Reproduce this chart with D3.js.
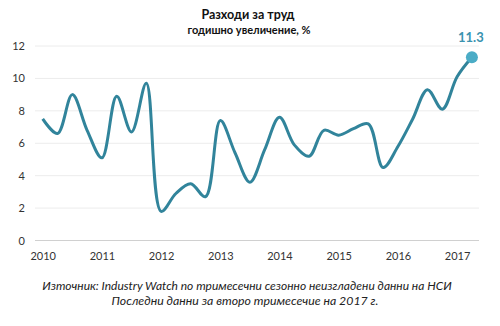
<!DOCTYPE html>
<html>
<head>
<meta charset="utf-8">
<script src="https://cdn.jsdelivr.net/npm/d3@7"></script>
<style>
  html, body { margin: 0; padding: 0; background: #fff; }
  svg { display: block; font-family: Lato, "Open Sans", sans-serif; }
</style>
</head>
<body>
<svg id="chart" width="500" height="326"></svg>
<script>
// Quarterly labour cost growth, year-on-year %, 2010 Q1 – 2017 Q2
const years = [2010, 2011, 2012, 2013, 2014, 2015, 2016, 2017];
const quarters = [
  "2010Q1","2010Q2","2010Q3","2010Q4",
  "2011Q1","2011Q2","2011Q3","2011Q4",
  "2012Q1","2012Q2","2012Q3","2012Q4",
  "2013Q1","2013Q2","2013Q3","2013Q4",
  "2014Q1","2014Q2","2014Q3","2014Q4",
  "2015Q1","2015Q2","2015Q3","2015Q4",
  "2016Q1","2016Q2","2016Q3","2016Q4",
  "2017Q1","2017Q2"
];
const values = [
  7.5, 6.6, 9.0, 6.8,
  5.1, 8.9, 6.7, 9.7,
  1.8, 2.9, 3.5, 2.7,
  7.4, 5.4, 3.6, 5.6,
  7.6, 5.9, 5.2, 6.8,
  6.5, 6.9, 7.2, 4.5,
  5.8, 7.5, 9.3, 8.1,
  10.1, 11.3
];
const yTicks = [0, 2, 4, 6, 8, 10, 12];

const svg = d3.select("#chart");
const plotLeft = 35, plotRight = 479, plotTop = 46, plotBottom = 240.5;

const x = d3.scalePoint().domain(quarters).range([42.7, 471.9]);
const y = d3.scaleLinear().domain([0, 12]).range([plotBottom, plotTop]);

// horizontal gridlines
svg.append("g").selectAll("line").data(yTicks.filter(d => d > 0)).join("line")
  .attr("x1", plotLeft).attr("x2", plotRight)
  .attr("y1", d => y(d)).attr("y2", d => y(d))
  .attr("stroke", "#ececec").attr("stroke-width", 1);

// y axis labels
const yAxis = d3.axisLeft(y).tickValues(yTicks).tickSize(0).tickPadding(0);
svg.append("g").attr("transform", "translate(25,0)").call(yAxis)
  .call(g => g.select(".domain").remove())
  .selectAll("text").attr("font-size", 11).attr("fill", "#333")
  .attr("font-family", "Lato, sans-serif");

// x axis baseline and year labels
const xAxis = d3.axisBottom(x)
  .tickValues(years.map(yr => yr + "Q1"))
  .tickFormat(d => d.slice(0, 4))
  .tickSize(0).tickPadding(12);
svg.append("g").attr("transform", `translate(0,${plotBottom})`).call(xAxis)
  .call(g => g.select(".domain").remove())
  .selectAll("text").attr("font-size", 11).attr("fill", "#333")
  .attr("font-family", "Lato, sans-serif");
svg.append("line")
  .attr("x1", plotLeft).attr("x2", plotRight)
  .attr("y1", plotBottom).attr("y2", plotBottom)
  .attr("stroke", "#d0d0d0").attr("stroke-width", 1);

// smoothed series line
const line = d3.line()
  .x((d, i) => x(quarters[i]))
  .y(d => y(d))
  .curve(d3.curveCatmullRom.alpha(0.5));
svg.append("path").datum(values)
  .attr("d", line)
  .attr("fill", "none")
  .attr("stroke", "#31849B")
  .attr("stroke-width", 3)
  .attr("stroke-linejoin", "round");

// latest value marker and label
const last = values.length - 1;
svg.append("circle")
  .attr("cx", x(quarters[last])).attr("cy", y(values[last]))
  .attr("r", 6).attr("fill", "#4BACC6");
svg.append("text")
  .attr("x", x(quarters[last]) - 1).attr("y", y(values[last]) - 15)
  .attr("text-anchor", "middle")
  .attr("font-size", 13).attr("font-weight", "bold")
  .attr("fill", "#3A93AF")
  .text(values[last].toFixed(1));

// titles
svg.append("text").attr("x", 248).attr("y", 19).attr("text-anchor", "middle")
  .attr("font-size", 12.5).attr("font-weight", "bold").attr("fill", "#111")
  .text("Разходи за труд");
svg.append("text").attr("x", 249).attr("y", 34).attr("text-anchor", "middle")
  .attr("font-size", 11).attr("font-weight", "bold").attr("fill", "#111")
  .text("годишно увеличение, %");

// source note
svg.append("text").attr("x", 247).attr("y", 290).attr("text-anchor", "middle")
  .attr("font-size", 12).attr("font-style", "italic").attr("fill", "#222")
  .text("Източник:  Industry Watch по тримесечни сезонно неизгладени данни на НСИ");
svg.append("text").attr("x", 245).attr("y", 305).attr("text-anchor", "middle")
  .attr("font-size", 12.3).attr("font-style", "italic").attr("fill", "#222")
  .text("Последни данни за второ тримесечие на 2017 г.");
</script>
</body>
</html>
